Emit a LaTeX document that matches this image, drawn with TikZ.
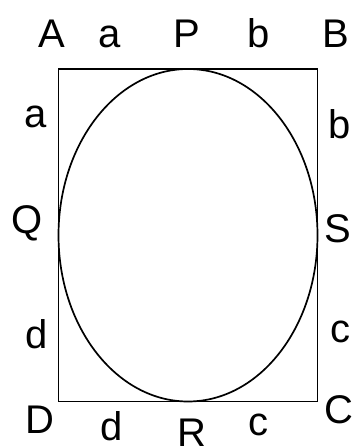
\documentclass[tikz,border=0pt]{standalone}
\usepackage{fontspec}
\setmainfont{Liberation Sans}
\begin{document}
\begin{tikzpicture}[x=1pt,y=-1pt,
  lbl/.style={anchor=base,inner sep=0pt,font=\fontsize{40}{44}\selectfont},
  edge/.style={line width=1.3pt,black}]
\useasboundingbox (0,0) rectangle (353,447);
\coordinate (A0) at (58.5,69);
\coordinate (C0) at (317.5,401.5);
\draw[edge] (A0) rectangle (C0);
\draw[line width=1.7pt] (188,235.25) ellipse [x radius=129.5, y radius=166.25];
% top row
\node[lbl] (lA) at (52,47) {A};
\node[lbl] (la1) at (110,47) {a};
\node[lbl] (lP) at (187,47) {P};
\node[lbl] (lb1) at (259,47) {b};
\node[lbl] (lB) at (336,47) {B};
% sides
\node[lbl] (la2) at (36,127) {a};
\node[lbl] (lb2) at (340,138) {b};
\node[lbl] (lQ) at (27,233) {Q};
\node[lbl] (lS) at (338,242) {S};
\node[lbl] (ld1) at (37,348) {d};
\node[lbl] (lc1) at (340,342) {c};
% bottom row
\node[lbl] (lD) at (40,433) {D};
\node[lbl] (ld2) at (112,440) {d};
\node[lbl] (lR) at (192,446) {R};
\node[lbl] (lc2) at (258,435) {c};
\node[lbl] (lC) at (339,423) {C};
\end{tikzpicture}
\end{document}
